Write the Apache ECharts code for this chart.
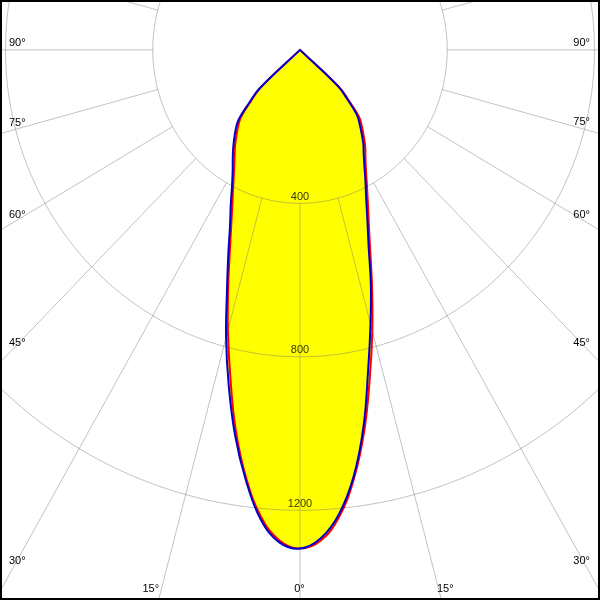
<!DOCTYPE html>
<html>
<head>
<meta charset="utf-8">
<script src="https://cdn.jsdelivr.net/npm/echarts@6/dist/echarts.min.js"></script>
<style>html,body{margin:0;padding:0;background:#fff}#c{width:600px;height:600px}</style>
</head>
<body>
<div id="c"></div>
<script>
// ---- data (cd, gamma angles in degrees) ----
const gammaAngles = [0,2.5,5,7.5,10,12.5,15,17.5,20,22.5,25,27.5,30,32.5,35,37.5,40,42.5,45,47.5,50,52.5,55,57.5,60,62.5,65,67.5,70,72.5,75,77.5,80,82.5,85,87.5,90];
const blueC0   = [1300,1275,1215,1120,995,855,740,640,545,478,425,385,350,322,300,275,252,228,182,140,0,0,0,0,0,0,0,0,0,0,0,0,0,0,0,0,0];
const blueC180 = [1300,1285,1228,1130,1018,895,776,660,570,497,445,400,366,340,317,294,272,247,195,150,0,0,0,0,0,0,0,0,0,0,0,0,0,0,0,0,0];
const redC90   = [1300,1281,1222,1126,1007,876,759,651,558,488,436,393,358,331,309,285,262,238,189,145,0,0,0,0,0,0,0,0,0,0,0,0,0,0,0,0,0];
const redC270  = [1300,1280,1221,1124,1006,874,757,649,557,487,434,392,358,331,308,284,262,237,188,145,0,0,0,0,0,0,0,0,0,0,0,0,0,0,0,0,0];
const radiusTicks = [400,800,1200];
const spokeAngles = [0,15,30,45,60,75,90,105,120,135,150,165,180,195,210,225,240,255,270,285,300,315,330,345];
const angleLabels = ['90°','75°','60°','45°','30°','15°','0°'];

// ---- layout ----
const labelFont = '11px "Liberation Sans", Arial, sans-serif';
const leftLabelPos  = [[9,42.5],[9,122.5],[9,214.5],[9,342.5],[9,561],[142.5,589]];
const rightLabelPos = [[590,42.5],[590,122],[590,215],[590,342.5],[590,561],[437,589]];
const zeroLabelPos = [299.5,588.5];
const curveSmooth = 0.4;

const rad = d => d * Math.PI / 180;
function curve(leftVals, rightVals) {
  // last index that still carries light on either side, plus the closing zero
  let n = gammaAngles.length - 1;
  while (n > 0 && leftVals[n - 1] === 0 && rightVals[n - 1] === 0) n--;
  const pts = [];
  for (let i = n; i >= 0; i--) {
    const a = rad(gammaAngles[i]);
    pts.push([-leftVals[i] * Math.sin(a), -leftVals[i] * Math.cos(a)]);
  }
  for (let i = 1; i <= n; i++) {
    const a = rad(gammaAngles[i]);
    pts.push([rightVals[i] * Math.sin(a), -rightVals[i] * Math.cos(a)]);
  }
  return pts;
}
const bluePts = curve(blueC180, blueC0);
const redPts = curve(redC270, redC90);

const gridColor = 'rgba(120,120,120,0.45)';
const series = [];

function shapeSeries(pts, z, style) {
  return {
    type: 'custom', z: z, silent: true, clip: true,
    data: [[0, 0]],
    renderItem: function (params, api) {
      return { type: 'polygon',
        shape: { points: pts.map(p => api.coord(p)), smooth: curveSmooth },
        style: style };
    }
  };
}
series.push(shapeSeries(redPts, 1, { fill: '#ffff00' }));
series.push(shapeSeries(bluePts, 1, { fill: '#ffff00' }));

radiusTicks.forEach(r => {
  const d = [];
  for (let t = 0; t <= 360; t += 1) d.push([r * Math.sin(rad(t)), -r * Math.cos(rad(t))]);
  series.push({ type: 'line', data: d, showSymbol: false, silent: true, z: 2,
    lineStyle: { color: gridColor, width: 1 } });
});
spokeAngles.forEach(t => {
  const r0 = radiusTicks[0], r1 = 4000;
  series.push({ type: 'line', showSymbol: false, silent: true, z: 2,
    data: [[r0 * Math.sin(rad(t)), -r0 * Math.cos(rad(t))], [r1 * Math.sin(rad(t)), -r1 * Math.cos(rad(t))]],
    lineStyle: { color: gridColor, width: 1 } });
});

series.push(shapeSeries(redPts, 3, { fill: 'none', stroke: '#ff0000', lineWidth: 2, lineJoin: 'round' }));
series.push(shapeSeries(bluePts, 4, { fill: 'none', stroke: '#0000cc', lineWidth: 2, lineJoin: 'round' }));

series.push({ type: 'scatter', symbolSize: 0, silent: true, z: 5,
  data: radiusTicks.map(r => [0, -r]),
  label: { show: true, position: 'top', distance: 1, color: '#000', fontSize: 11,
    fontFamily: '"Liberation Sans", Arial, sans-serif',
    formatter: p => String(-p.value[1]) } });

const graphics = [];
angleLabels.slice(0, 6).forEach((t, i) => {
  graphics.push({ type: 'text', x: leftLabelPos[i][0], y: leftLabelPos[i][1], z: 10,
    style: { text: t, font: labelFont, fill: '#000', textAlign: 'left', textVerticalAlign: 'middle' } });
  graphics.push({ type: 'text', x: rightLabelPos[i][0], y: rightLabelPos[i][1], z: 10,
    style: { text: t, font: labelFont, fill: '#000', textAlign: i === 5 ? 'left' : 'right', textVerticalAlign: 'middle' } });
});
graphics.push({ type: 'text', x: zeroLabelPos[0], y: zeroLabelPos[1], z: 10,
  style: { text: angleLabels[6], font: labelFont, fill: '#000', textAlign: 'center', textVerticalAlign: 'middle' } });
graphics.push({ type: 'rect', z: 20, shape: { x: 1, y: 1, width: 598, height: 598 },
  style: { fill: 'none', stroke: '#000', lineWidth: 2 } });

const chart = echarts.init(document.getElementById('c'), null, { renderer: 'canvas' });
chart.setOption({
  animation: false,
  backgroundColor: '#fff',
  grid: { left: 0, right: 0, top: 0, bottom: 0 },
  xAxis: { type: 'value', min: -815, max: 815, show: false },
  yAxis: { type: 'value', min: -1434, max: 130, show: false },
  series: series,
  graphic: graphics
});
</script>
</body>
</html>
